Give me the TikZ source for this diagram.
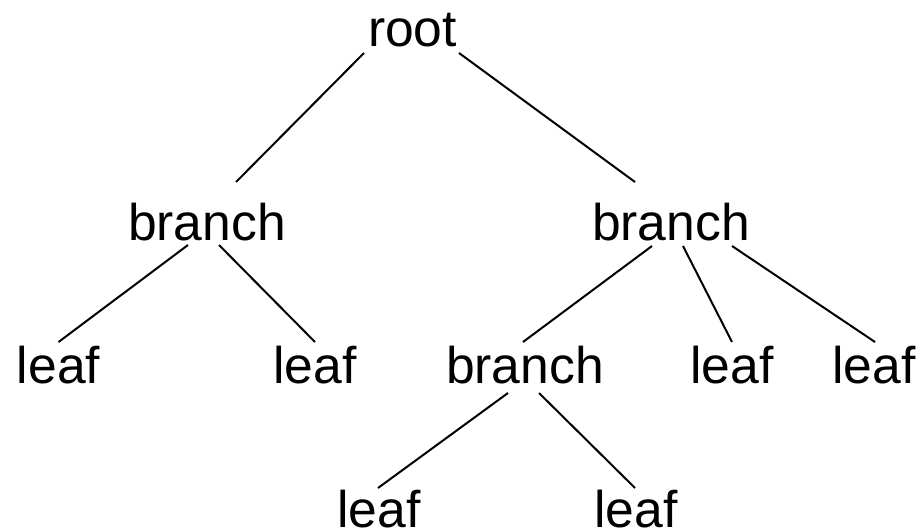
\documentclass[tikz,border=0pt]{standalone}
\usepackage{fontspec}
\setmainfont{Liberation Sans}
\usetikzlibrary{calc}

\tikzset{
  word/.style={inner sep=0pt, anchor=base, font=\fontsize{51.6}{60}\selectfont},
  edge/.style={line width=2pt}
}

\begin{document}
\begin{tikzpicture}[x=1pt,y=-1pt]
\useasboundingbox (0,0) rectangle (924,532);

%levels
\node[word] (root) at (412.5,47) {root};
\node[word] (bL) at (207,240) {branch};
\node[word] (bR) at (671,240) {branch};
\node[word] (lfA) at (58.5,383) {leaf};
\node[word] (lfB) at (315,383) {leaf};
\node[word] (bM) at (525,383) {branch};
\node[word] (lfC) at (732,383) {leaf};
\node[word] (lfD) at (874,383) {leaf};
\node[word] (lfE) at (379,527) {leaf};
\node[word] (lfF) at (636,527) {leaf};

%edges
\draw[edge] ([shift={(-48.5,6)}]root.base) -- ([shift={(29,-58)}]bL.base);
\draw[edge] ([shift={(46.5,6)}]root.base) -- ([shift={(-36,-58)}]bR.base);
\draw[edge] ([shift={(-19,5)}]bL.base) -- ([shift={(0,-41)}]lfA.base);
\draw[edge] ([shift={(12,5)}]bL.base) -- ([shift={(0,-41)}]lfB.base);
\draw[edge] ([shift={(-19,6)}]bR.base) -- ([shift={(-2,-41)}]bM.base);
\draw[edge] ([shift={(12,6)}]bR.base) -- ([shift={(0,-41)}]lfC.base);
\draw[edge] ([shift={(61,6)}]bR.base) -- ([shift={(1,-41)}]lfD.base);
\draw[edge] ([shift={(-17,10)}]bM.base) -- ([shift={(-1,-39)}]lfE.base);
\draw[edge] ([shift={(14,10)}]bM.base) -- ([shift={(-1,-39)}]lfF.base);
\end{tikzpicture}
\end{document}
